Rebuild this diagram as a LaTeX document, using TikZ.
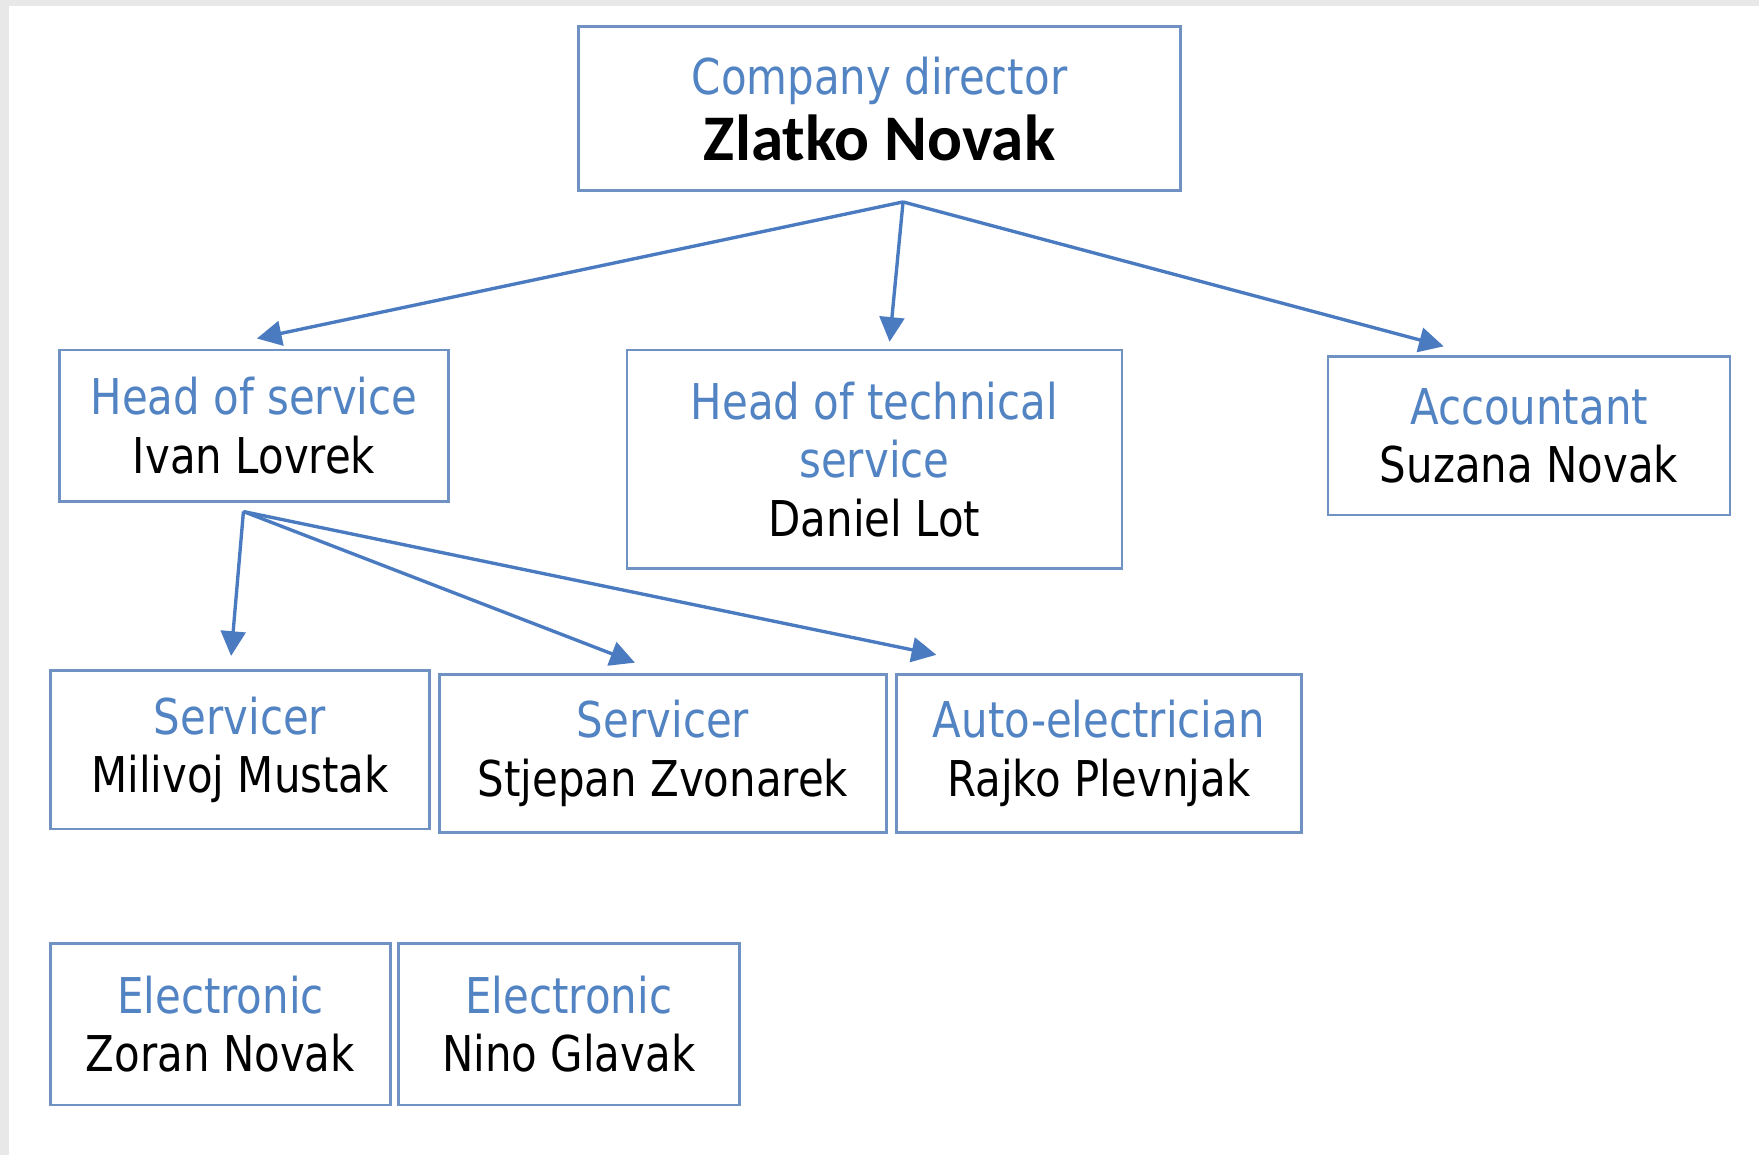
\documentclass[tikz,border=0pt]{standalone}
\usepackage{fontspec}
\setmainfont{DejaVu Sans}[FakeStretch=0.85]
\newfontfamily\bossfont{Carlito}
\usetikzlibrary{arrows.meta}
\usepackage{xcolor}
\definecolor{jobblue}{HTML}{5283C2}
\definecolor{boxline}{HTML}{7092C2}
\definecolor{arrowblue}{HTML}{4A7BC0}
\newcommand{\job}[1]{{\color{jobblue}#1}}

\tikzset{
  orgbox/.style 2 args={draw=boxline, line width=0.7pt, fill=white, align=center,
    inner sep=0pt, minimum width=#1cm, minimum height=#2cm,
    font=\fontsize{12.5}{14.8}\selectfont},
  orgarrow/.style={draw=arrowblue, line width=0.85pt,
    -{Triangle[length=0.22cm,width=0.22cm]}}
}

\begin{document}
\begin{tikzpicture}[x=0.01cm, y=-0.01cm]
            \fill[gray!18] (0,0) rectangle (1568,1030);
            \fill[white] (8,5) rectangle (1568,1030);
            \useasboundingbox (0,0) rectangle (1568,1030);

            \node[orgbox={5.36}{1.46}] (director) at (784,97) {\job{Company director}\\[2pt]{\bossfont\bfseries\fontsize{16.5}{18}\selectfont Zlatko Novak}};
            \node[orgbox={3.47}{1.35}] (headservice) at (226.5,379.5) {\job{Head of service}\\Ivan Lovrek};
            \node[orgbox={4.41}{1.95}] (headtech) at (779.5,409.5) {\job{Head of technical}\\\job{service}\\Daniel Lot};
            \node[orgbox={3.58}{1.41}] (accountant) at (1363,388.5) {\job{Accountant}\\Suzana Novak};
            \node[orgbox={3.38}{1.41}] (servicerA) at (214,668.5) {\job{Servicer}\\Milivoj Mustak};
            \node[orgbox={3.98}{1.41}] (servicerB) at (591,671.5) {\job{Servicer}\\Stjepan Zvonarek};
            \node[orgbox={3.61}{1.41}] (autoel) at (979.5,671.5) {\job{Auto-electrician}\\Rajko Plevnjak};
            \node[orgbox={3.03}{1.44}] (electronA) at (196.5,913) {\job{Electronic}\\Zoran Novak};
            \node[orgbox={3.04}{1.44}] (electronB) at (507,913) {\job{Electronic}\\Nino Glavak};

            % fork points under the two heads
            \coordinate (forktop) at (805,180);
            \coordinate (forkservice) at (217,456);

            \draw[orgarrow] (forktop) -- ([xshift=0.025cm,yshift=0.09cm]headservice.north);
            \draw[orgarrow] (forktop) -- ([xshift=0.135cm,yshift=0.06cm]headtech.north);
            \draw[orgarrow] (forktop) -- ([xshift=-0.76cm,yshift=0.08cm]accountant.north);
            \draw[orgarrow] (forkservice) -- ([xshift=-0.08cm,yshift=0.12cm]servicerA.north);
            \draw[orgarrow] (forkservice) -- ([xshift=-0.25cm,yshift=0.09cm]servicerB.north);
            \draw[orgarrow] (forkservice) -- ([xshift=0.37cm,yshift=0.16cm]autoel.north west);
        \end{tikzpicture}
\end{document}
